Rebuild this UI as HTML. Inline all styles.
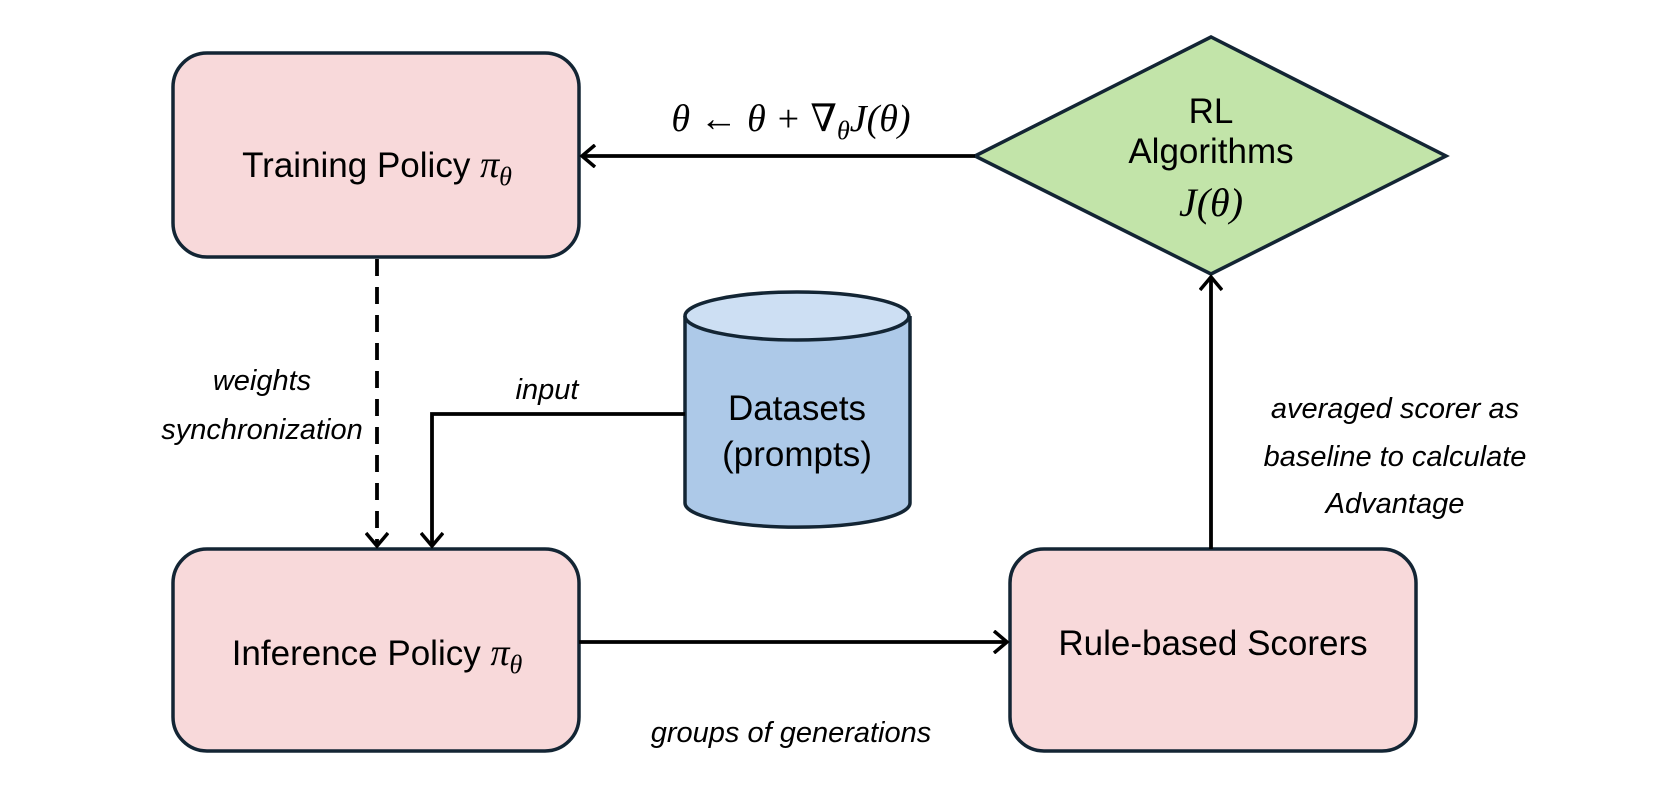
<!DOCTYPE html>
<html><head><meta charset="utf-8"><style>
html,body{margin:0;padding:0;background:#fff;}
svg{display:block;}
text{font-family:"Liberation Sans","DejaVu Sans",sans-serif;fill:#000;}
.lbl{font-size:35px;}
.it{font-size:29px;font-style:italic;}
.m{font-family:"Liberation Serif","DejaVu Serif",serif;font-style:italic;}
</style></head><body>
<svg width="1657" height="790" viewBox="0 0 1657 790" xmlns="http://www.w3.org/2000/svg">
<defs>
<marker id="ah" markerWidth="24" markerHeight="24" refX="18" refY="12" orient="auto" markerUnits="userSpaceOnUse">
<path d="M5,1 L18,12 L5,23" fill="none" stroke="#000" stroke-width="3.5" stroke-linejoin="miter"/>
</marker>
</defs>
<g stroke="#132534" stroke-width="3.5">
<rect x="173" y="53" width="406" height="204" rx="34" fill="#f8d9da"/>
<rect x="173" y="549" width="406" height="202" rx="34" fill="#f8d9da"/>
<rect x="1010" y="549" width="406" height="202" rx="34" fill="#f8d9da"/>
<polygon points="975,156 1211,37 1446,156 1211,274" fill="#c2e4a9"/>
<path d="M685,316 L685,503 A112,24 0 0 0 910,503 L910,316" fill="#adc9e8"/>
<ellipse cx="797" cy="316" rx="112" ry="24" fill="#cddff3"/>
</g>
<g stroke="#000" stroke-width="3.8" fill="none">
<line x1="975" y1="156" x2="582" y2="156" marker-end="url(#ah)"/>
<line x1="377" y1="259" x2="377" y2="546" stroke-dasharray="17,11" marker-end="url(#ah)"/>
<polyline points="685,414 432,414 432,546" marker-end="url(#ah)"/>
<line x1="579" y1="642" x2="1007" y2="642" marker-end="url(#ah)"/>
<line x1="1211" y1="549" x2="1211" y2="277" marker-end="url(#ah)"/>
</g>
<text class="lbl" x="377" y="177" text-anchor="middle">Training Policy <tspan class="m" font-size="38">π</tspan><tspan class="m" font-size="26" dy="8">θ</tspan></text>
<text class="lbl" x="377" y="665" text-anchor="middle">Inference Policy <tspan class="m" font-size="38">π</tspan><tspan class="m" font-size="26" dy="8">θ</tspan></text>
<text class="lbl" x="1213" y="655" text-anchor="middle">Rule-based Scorers</text>
<text class="lbl" x="1211" y="123" text-anchor="middle">RL</text>
<text class="lbl" x="1211" y="163" text-anchor="middle">Algorithms</text>
<text class="m" x="1211" y="216" text-anchor="middle" font-size="40">J(θ)</text>
<text class="lbl" x="797" y="420" text-anchor="middle">Datasets</text>
<text class="lbl" x="797" y="466" text-anchor="middle">(prompts)</text>
<text class="m" x="791" y="131" text-anchor="middle" font-size="38">θ ← θ + ∇<tspan font-size="26" dy="8">θ</tspan><tspan dy="-8">J(θ)</tspan></text>
<text class="it" x="262" y="390" text-anchor="middle">weights</text>
<text class="it" x="262" y="439" text-anchor="middle">synchronization</text>
<text class="it" x="547" y="399" text-anchor="middle">input</text>
<text class="it" x="1395" y="418" text-anchor="middle">averaged scorer as</text>
<text class="it" x="1395" y="466" text-anchor="middle">baseline to calculate</text>
<text class="it" x="1395" y="513" text-anchor="middle">Advantage</text>
<text class="it" x="791" y="742" text-anchor="middle">groups of generations</text>
</svg>
</body></html>
